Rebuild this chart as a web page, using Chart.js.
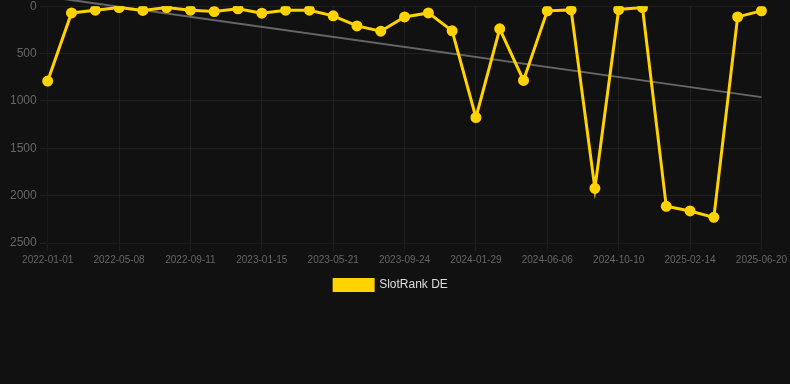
<html>
<head>
<title>SlotRank DE</title>
<style>
  body { margin: 0; background: #111111; overflow: hidden; }
  #wrap { position: relative; width: 790px; height: 305px; margin-top: -4px; }
</style>
</head>
<body>
<div id="wrap"><canvas id="chart"></canvas></div>
<script src="https://cdn.jsdelivr.net/npm/chart.js"></script>
<script>
var labels = [
  '2022-01-01', '2022-02-12', '2022-03-26', '2022-05-08', '2022-06-19', '2022-07-31',
  '2022-09-11', '2022-10-23', '2022-12-04', '2023-01-15', '2023-02-26', '2023-04-09',
  '2023-05-21', '2023-07-02', '2023-08-13', '2023-09-24', '2023-11-05', '2023-12-17',
  '2024-01-29', '2024-03-11', '2024-04-24', '2024-06-06', '2024-07-18', '2024-08-29',
  '2024-10-10', '2024-11-21', '2025-01-02', '2025-02-14', '2025-03-28', '2025-05-09',
  '2025-06-20'
];
var rankDE = [
  790, 71, 42, 14, 45, 14, 42, 56, 28, 74, 42, 42,
  102, 208, 264, 113, 71, 260, 1175, 239, 784, 49, 39, 1923,
  35, 14, 2113, 2162, 2229, 113, 49
];
// trend line: only the two ends, drawn straight across
var trend = [-100];
for (var i = 1; i < labels.length - 1; i++) trend.push(null);
trend.push(960);

var gridColor = 'rgba(255,255,255,0.06)';
Chart.defaults.font.family = 'Arial, "Liberation Sans", sans-serif';

var ctx = document.getElementById('chart').getContext('2d');
var chart = new Chart(ctx, {
  type: 'line',
  data: {
    labels: labels,
    datasets: [{
      label: 'SlotRank DE',
      data: rankDE,
      borderColor: '#ffd200',
      backgroundColor: '#ffd200',
      borderWidth: 3,
      pointRadius: 4,
      pointHoverRadius: 5,
      tension: 0
    }, {
      label: 'trend',
      data: trend,
      spanGaps: true,
      clip: false,
      borderColor: 'rgba(160,160,160,0.6)',
      borderWidth: 2,
      pointRadius: 0,
      tension: 0
    }]
  },
  options: {
    responsive: true,
    maintainAspectRatio: false,
    animation: false,
    layout: { padding: { left: 7, right: 15 } },
    plugins: {
      legend: {
        position: 'bottom',
        labels: {
          color: '#dddddd',
          font: { size: 12 },
          boxWidth: 39,
          boxHeight: 11,
          filter: function (item) { return item.text !== 'trend'; }
        }
      },
      tooltip: { enabled: false }
    },
    scales: {
      x: {
        grid: {
          color: function (c) { return c.index % 3 === 0 ? gridColor : 'transparent'; }
        },
        ticks: {
          color: '#666666',
          font: { size: 10 },
          autoSkip: false,
          maxRotation: 0,
          callback: function (v, i) { return i % 3 === 0 ? labels[i] : ''; }
        }
      },
      y: {
        reverse: true,
        min: 0,
        max: 2500,
        grid: { color: gridColor },
        ticks: {
          color: '#666666',
          font: { size: 12 },
          stepSize: 500,
          callback: function (v) { return String(v); }
        }
      }
    }
  }
});
</script>
</body>
</html>
